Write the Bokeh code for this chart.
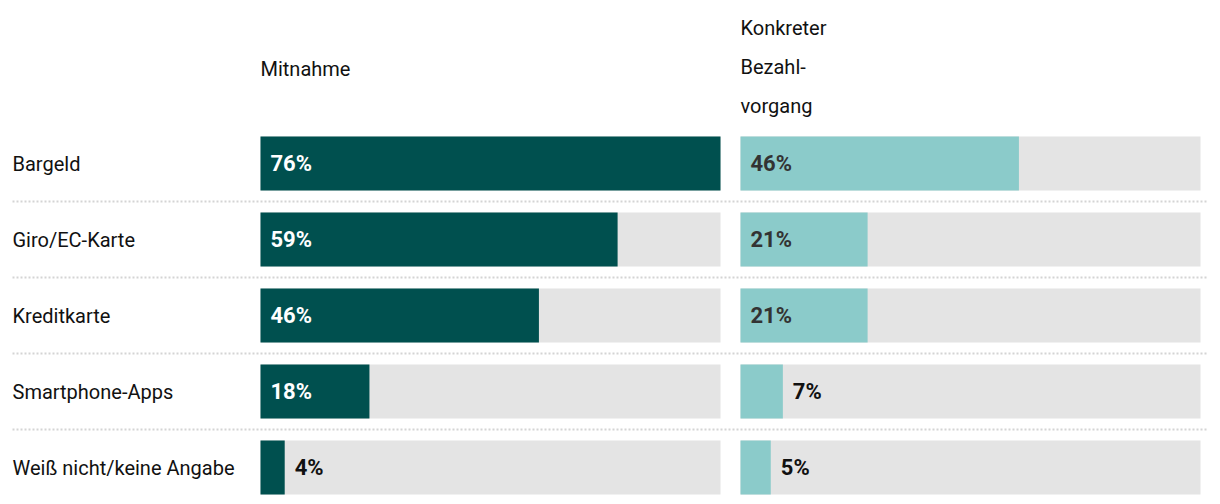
from bokeh.plotting import figure
from bokeh.models import Range1d, ColumnDataSource
from bokeh.embed import file_html
from bokeh.resources import INLINE
from bokeh.core.properties import value

# ---- data ----
categories = ["Bargeld", "Giro/EC-Karte", "Kreditkarte", "Smartphone-Apps", "Weiß nicht/keine Angabe"]
mitnahme = [76, 59, 46, 18, 4]
bezahlvorgang = [46, 21, 21, 7, 5]
header_left = ["Mitnahme"]
header_right = ["Konkreter", "Bezahl-", "vorgang"]
scale_max = 76

# ---- layout (pixels) ----
W, H = 1212, 496
PANEL_PX = 460
GAP_PX = 20
LEFT_PX = 260          # left panel start inside the figure
ROW_PX = 76
TOP_PX = 163           # first row centre from top
ppu = PANEL_PX / scale_max
right_off = (PANEL_PX + GAP_PX) / ppu
pad = 10 / ppu

FONT = value("Roboto")
DARK = "#00504f"
LIGHT = "#8bcbca"
TRACK = "#e4e4e4"

p = figure(width=W, height=H,
           x_range=Range1d(-LEFT_PX / ppu, (W - LEFT_PX) / ppu),
           y_range=Range1d((H - TOP_PX) / ROW_PX, -TOP_PX / ROW_PX),
           output_backend="svg", toolbar_location=None, min_border=0)
p.axis.visible = False
p.grid.visible = False
p.outline_line_color = None
p.background_fill_color = "white"
p.border_fill_color = "white"

rows = list(range(len(categories)))
bh = 54 / ROW_PX

# separators
sep_y = [i + 0.5 for i in rows[:-1]]
p.segment(x0=[(12 - LEFT_PX) / ppu] * len(sep_y), x1=[(1208 - LEFT_PX) / ppu] * len(sep_y),
          y0=sep_y, y1=sep_y, line_color="#d4d4d4", line_width=2, line_dash="2 2")

# tracks
for off in (0, right_off):
    p.hbar(y=rows, left=[off] * len(rows), right=[off + scale_max] * len(rows),
           height=bh, fill_color=TRACK, line_color=None)

# bars
p.hbar(y=rows, left=[0] * len(rows), right=mitnahme, height=bh, fill_color=DARK, line_color=None)
p.hbar(y=rows, left=[right_off] * len(rows), right=[right_off + v for v in bezahlvorgang],
       height=bh, fill_color=LIGHT, line_color=None)

# value labels
def labels(vals, off, inside_color):
    xs, cols, txt = [], [], []
    for v in vals:
        if v >= 10:
            xs.append(off + pad); cols.append(inside_color)
        else:
            xs.append(off + v + pad); cols.append("#111111")
        txt.append(f"{v}%")
    return xs, cols, txt

for vals, off, col in ((mitnahme, 0, "white"), (bezahlvorgang, right_off, "#333333")):
    xs, cols, txt = labels(vals, off, col)
    src = ColumnDataSource(dict(x=xs, y=rows, t=txt, c=cols))
    p.text(x="x", y="y", text="t", text_color="c", source=src, text_font=FONT,
           text_font_style="bold", text_font_size="22px", text_baseline="middle",
           text_align="left")

# category labels
p.text(x=[(12 - LEFT_PX) / ppu] * len(rows), y=rows, text=categories, text_font=FONT,
       text_font_size="20px", text_baseline="middle", text_color="#111111")

# headers
hdr_y = [-1.27 + (k - 1) * 0.515 for k in range(len(header_right))]
p.text(x=[0], y=[-1.25], text=header_left, text_font=FONT, text_font_size="20px",
       text_baseline="middle", text_color="#111111")
p.text(x=[right_off] * len(header_right), y=hdr_y, text=header_right, text_font=FONT,
       text_font_size="20px", text_baseline="middle", text_color="#111111")

open("out.html", "w").write(file_html(p, INLINE))
